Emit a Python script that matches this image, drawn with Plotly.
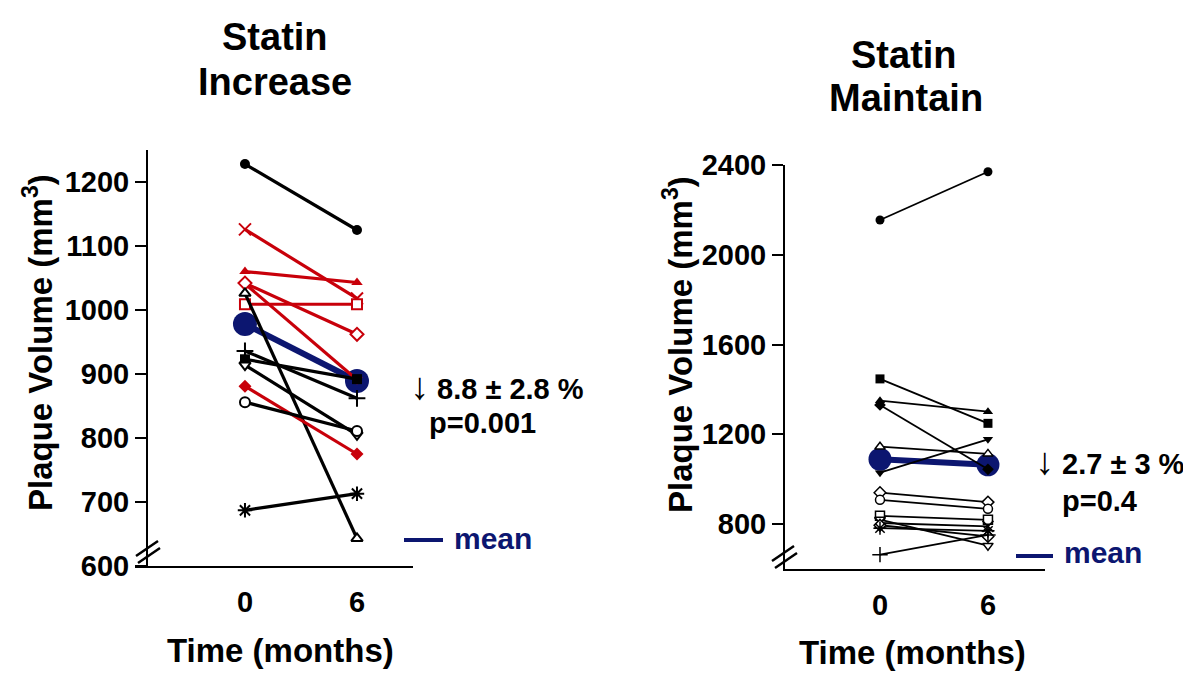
import plotly.graph_objects as go

W, H = 1191, 691
OFF = 8  # page body margin the figure is drawn at

# ---------------- data ----------------
time_points = [0, 6]
tick_text_x = ["0", "6"]

# Left panel: Statin Increase
inc_month0 = [1228, 1126, 1060, 1041, 1042, 1009, 1026, 936, 923, 914, 881, 856, 687]
inc_month6 = [1125, 1018, 1043, 891, 962, 1009, 643, 862, 892, 805, 775, 811, 713]
inc_mean = [978, 889]

# Right panel: Statin Maintain
mai_month0 = [2155, 1447, 1350, 1331, 1145, 1029, 940, 908, 837, 820, 805, 795, 782, 664]
mai_month6 = [2370, 1249, 1301, 1044, 1113, 1178, 898, 868, 819, 704, 790, 745, 770, 752]
mai_mean = [1089, 1064]

left_yticks = [600, 700, 800, 900, 1000, 1100, 1200]
right_yticks = [800, 1200, 1600, 2000, 2400]

# ---------------- styles ----------------
RED = "#c8000a"
BLK = "#000000"
NAVY = "#0c1670"
inc_colors = [BLK, RED, RED, RED, RED, RED, BLK, BLK, BLK, BLK, RED, BLK, BLK]
# (symbol, hollow?)  hollow = white fill with coloured outline, None = line glyph
inc_symbols = [("circle", False), ("x-thin-open", None), ("triangle-up", False),
               ("triangle-down", False), ("diamond", True), ("square", True),
               ("triangle-up", True), ("cross-thin-open", None), ("square", False),
               ("triangle-down", True), ("diamond", False), ("circle", True),
               ("asterisk-open", None)]
mai_symbols = [("circle", False), ("square", False), ("triangle-up", False), ("diamond", False),
               ("triangle-up", True), ("triangle-down", False), ("diamond", True),
               ("circle", True), ("square", True), ("triangle-down", True),
               ("x-thin-open", None), ("diamond", True), ("asterisk-open", None),
               ("cross-thin-open", None)]

FONT = "Liberation Sans, Arial, sans-serif"


def fx(px):
    return (px - OFF) / W


def fy(py):
    return 1 - (py - OFF) / H


def marker_style(sym, hollow, c, size, lw):
    if hollow is None:
        return dict(symbol=sym, size=size + 2, color=c, line=dict(color=c, width=lw))
    if hollow:
        return dict(symbol=sym, size=size, color="white", line=dict(color=c, width=lw))
    return dict(symbol=sym, size=size, color=c, line=dict(color=c, width=0))


fig = go.Figure()

fig.add_trace(go.Scatter(x=time_points, y=inc_mean, mode="lines+markers", xaxis="x", yaxis="y",
                         line=dict(color=NAVY, width=6),
                         marker=dict(symbol="circle", size=24, color=NAVY), showlegend=False))
fig.add_trace(go.Scatter(x=time_points, y=mai_mean, mode="lines+markers", xaxis="x2", yaxis="y2",
                         line=dict(color=NAVY, width=6),
                         marker=dict(symbol="circle", size=23, color=NAVY), showlegend=False))

for v0, v6, c, (s, hol) in zip(inc_month0, inc_month6, inc_colors, inc_symbols):
    fig.add_trace(go.Scatter(
        x=time_points, y=[v0, v6], mode="lines+markers", xaxis="x", yaxis="y",
        line=dict(color=c, width=3.2),
        marker=marker_style(s, hol, c, 10, 2),
        showlegend=False))

for v0, v6, (s, hol) in zip(mai_month0, mai_month6, mai_symbols):
    fig.add_trace(go.Scatter(
        x=time_points, y=[v0, v6], mode="lines+markers", xaxis="x2", yaxis="y2",
        line=dict(color=BLK, width=1.8),
        marker=marker_style(s, hol, BLK, 9, 1.5),
        showlegend=False))

tickfont = dict(family=FONT, size=29, color="black", weight="bold")

common = dict(showline=True, linecolor="black", linewidth=2, showgrid=False, zeroline=False,
              automargin=False)

fig.update_layout(
    width=W, height=H,
    margin=dict(l=0, r=0, t=0, b=0, autoexpand=False),
    paper_bgcolor="white", plot_bgcolor="white",
    showlegend=False,
    xaxis=dict(domain=[fx(135), fx(413)], range=[-5.89, 9.0], anchor="y",
               tickvals=time_points, ticktext=tick_text_x, ticks="", tickfont=tickfont,
               ticklabelstandoff=9, **common),
    yaxis=dict(domain=[fy(566), fy(150)], range=[600, 1250], anchor="free", position=fx(147),
               tickvals=left_yticks, ticks="outside", ticklen=11, tickwidth=2, tickcolor="black",
               tickfont=tickfont, **common),
    xaxis2=dict(domain=[fx(783), fx(1045)], range=[-5.39, 9.17], anchor="y2",
                tickvals=time_points, ticktext=tick_text_x, ticks="", tickfont=tickfont,
                ticklabelstandoff=9, **common),
    yaxis2=dict(domain=[fy(569), fy(165)], range=[600, 2400], anchor="free", position=fx(784),
                tickvals=right_yticks, ticks="outside", ticklen=11, tickwidth=2, tickcolor="black",
                tickfont=tickfont, **common),
)

shapes = []
for (x0, y0, x1, y1) in [(136, 556, 158, 541), (138, 563, 160, 548),
                         (772, 561, 794, 546), (775, 568, 797, 553)]:
    shapes.append(dict(type="line", xref="paper", yref="paper",
                       x0=fx(x0), y0=fy(y0), x1=fx(x1), y1=fy(y1),
                       line=dict(color="black", width=2.5)))
shapes.append(dict(type="line", xref="paper", yref="paper", x0=fx(404), y0=fy(540),
                   x1=fx(443), y1=fy(540), line=dict(color=NAVY, width=4)))
shapes.append(dict(type="line", xref="paper", yref="paper", x0=fx(1016), y0=fy(556),
                   x1=fx(1053), y1=fy(556), line=dict(color=NAVY, width=4)))
fig.update_layout(shapes=shapes)


def ann(text, x, y, size, color="black", angle=0, xanchor="center"):
    fig.add_annotation(text=text, x=fx(x), y=fy(y), xref="paper", yref="paper",
                       showarrow=False, textangle=angle, xanchor=xanchor, yanchor="middle",
                       font=dict(family=FONT, size=size, color=color, weight="bold"))


ARROW = '<span style="font-size:38px;font-weight:normal">↓</span>'

# titles
ann("Statin", 275, 37, 38)
ann("Increase", 275, 82, 38)
ann("Statin", 904, 55, 38)
ann("Maintain", 906, 98, 38)

# axis titles
ann("Time (months)", 280, 650, 33)
ann("Time (months)", 912, 652, 33)
ann("Plaque Volume (mm<sup>3</sup>)", 38, 343, 33, angle=-90)
ann("Plaque Volume (mm<sup>3</sup>)", 678, 345, 33, angle=-90)

# statistics
ann(ARROW + " 8.8 ± 2.8 %", 408, 386, 29, xanchor="left")
ann("p=0.001", 427, 423, 29, xanchor="left")
ann("mean", 452, 538, 30, color=NAVY, xanchor="left")
ann(ARROW + " 2.7 ± 3 %", 1033, 461, 29, xanchor="left")
ann("p=0.4", 1060, 501, 29, xanchor="left")
ann("mean", 1062, 552, 30, color=NAVY, xanchor="left")

fig.write_html("out.html")
